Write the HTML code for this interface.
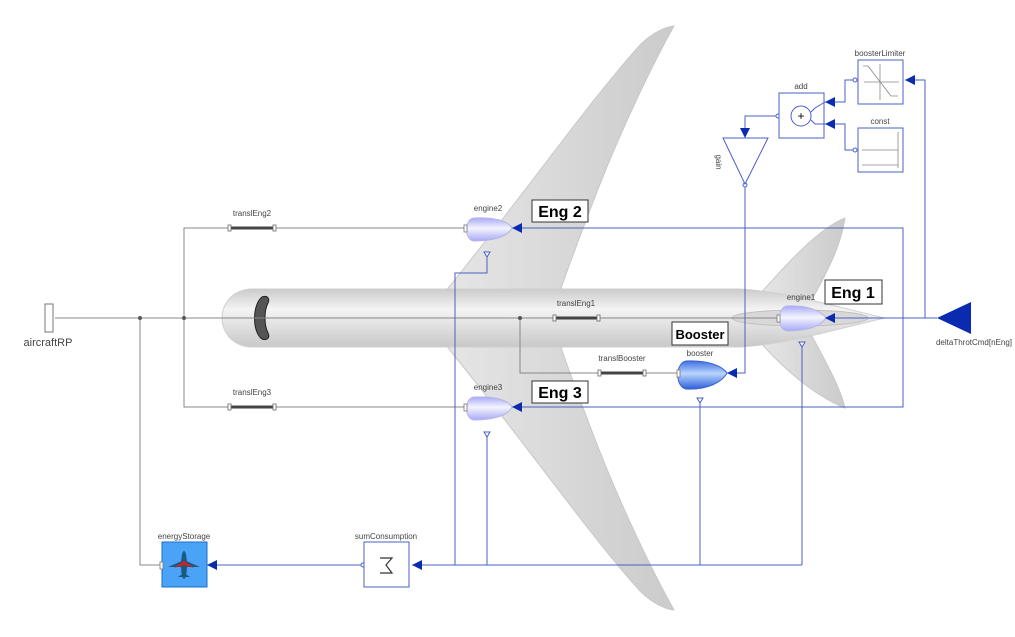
<!DOCTYPE html>
<html><head><meta charset="utf-8"><style>
html,body{margin:0;padding:0;background:#fff;}
svg{display:block;font-family:"Liberation Sans",sans-serif;}
</style></head><body>
<svg width="1015" height="637" viewBox="0 0 1015 637" xmlns="http://www.w3.org/2000/svg">
<defs>
<linearGradient id="fus" x1="0" y1="0" x2="0" y2="1">
<stop offset="0" stop-color="#cbcbcb"/><stop offset="0.35" stop-color="#f4f4f4"/><stop offset="1" stop-color="#c8c8c8"/>
</linearGradient>
<linearGradient id="wing" x1="0" y1="0" x2="1" y2="0">
<stop offset="0" stop-color="#e6e6e6"/><stop offset="1" stop-color="#cbcbcb"/>
</linearGradient>
<linearGradient id="eng" x1="0" y1="0" x2="0" y2="1">
<stop offset="0" stop-color="#a9a9f5"/><stop offset="0.45" stop-color="#f4f4ff"/><stop offset="1" stop-color="#a9a9f5"/>
</linearGradient>
<linearGradient id="boo" x1="0" y1="0" x2="0" y2="1">
<stop offset="0" stop-color="#3f6fe0"/><stop offset="0.45" stop-color="#b8d4ff"/><stop offset="1" stop-color="#2f5fd8"/>
</linearGradient>
</defs>

<path d="M445,292 C520,200 590,100 640,45 C652,33 665,27 674,26 C655,60 620,130 590,210 C575,250 565,275 560,292 Z" fill="url(#wing)" stroke="#c8c8c8"/>
<path d="M445,344 C520,436 590,536 640,591 C652,603 665,609 674,610 C655,576 620,506 590,426 C575,386 565,361 560,344 Z" fill="url(#wing)" stroke="#c8c8c8"/>
<path d="M760,294 C790,260 820,228 845,218 C840,250 825,275 812,300 Z" fill="url(#wing)" stroke="#c8c8c8"/>
<path d="M760,342 C790,376 820,398 845,408 C840,386 825,361 812,336 Z" fill="url(#wing)" stroke="#c8c8c8"/>
<path d="M250,289 L740,289 C790,292 840,308 885,318 C840,328 790,344 740,347 L250,347 C230,345 222,330 222,318 C222,306 230,291 250,289 Z" fill="url(#fus)" stroke="#cfcfcf"/>
<ellipse cx="800" cy="318" rx="68" ry="8" fill="#d8d8d8" stroke="#c0c0c0"/>
<path d="M262,297 C252,305 252,332 262,339 C268,341 270,337 268,333 C264,325 264,311 268,303 C270,299 268,295 262,297 Z" fill="#555" stroke="#222"/>

<g stroke="#888" stroke-width="1" fill="none">
<line x1="55" y1="318" x2="778" y2="318"/>
<polyline points="465,228 184,228 184,407 465,407"/>
<polyline points="162,565 140,565 140,318"/>
<polyline points="520,318 520,373 678,373"/>
</g>
<g fill="#555"><circle cx="140" cy="318" r="2"/><circle cx="184" cy="318" r="2"/><circle cx="520" cy="318" r="2"/></g>
<rect x="45" y="304" width="8" height="28" fill="#fff" stroke="#777"/>
<text x="48" y="346" font-size="11" fill="#444" text-anchor="middle">aircraftRP</text>

<g stroke="#444" stroke-width="3"><line x1="230" y1="228" x2="274" y2="228"/><line x1="230" y1="407" x2="274" y2="407"/><line x1="555" y1="318" x2="598" y2="318"/><line x1="600" y1="373" x2="644" y2="373"/></g>
<g fill="#fff" stroke="#666" stroke-width="0.8">
<rect x="228" y="225" width="3" height="6"/><rect x="273" y="225" width="3" height="6"/>
<rect x="228" y="404" width="3" height="6"/><rect x="273" y="404" width="3" height="6"/>
<rect x="553" y="315" width="3" height="6"/><rect x="597" y="315" width="3" height="6"/>
<rect x="598" y="370" width="3" height="6"/><rect x="643" y="370" width="3" height="6"/>
</g>
<g font-size="8" fill="#444" text-anchor="middle">
<text x="252" y="216">translEng2</text><text x="252" y="395">translEng3</text>
<text x="576" y="306">translEng1</text><text x="622" y="361">translBooster</text>
</g>

<g stroke="#4a5fc9" stroke-width="1" fill="none">
<polyline points="512,228 903,228 903,407 512,407"/>
<line x1="827" y1="318" x2="937" y2="318"/>
<polyline points="925,318 925,80 905,80"/>
<polyline points="745,185 745,373 727,373"/>
<polyline points="487,252 487,273 455,273 455,565"/>
<line x1="487" y1="432" x2="487" y2="565"/>
<line x1="700" y1="398" x2="700" y2="565"/>
<line x1="802" y1="342" x2="802" y2="565"/>
<line x1="802" y1="565" x2="412" y2="565"/>
<line x1="363" y1="565" x2="207" y2="565"/>
<polyline points="856,80 845,80 845,102 825,102"/>
<polyline points="856,150 845,150 845,124 825,124"/>
<polyline points="779,116 745,116 745,128"/>
</g>

<g stroke="#b5b5ea" stroke-width="1">
<path d="M474,218 C495,217 508,221 512,228 C508,236 495,241 474,241 C464,240 464,219 474,218 Z" fill="url(#eng)"/>
<path d="M474,397 C495,396 508,400 512,407 C508,415 495,420 474,420 C464,419 464,398 474,397 Z" fill="url(#eng)"/>
<path d="M787,306 C808,305 821,311 826,318 C821,326 808,331 787,331 C777,330 777,307 787,306 Z" fill="url(#eng)"/>
<path d="M686,361 C708,360 722,366 727,373 C722,382 708,390 686,389 C675,387 675,363 686,361 Z" fill="url(#boo)" stroke="#3a63cf"/>
</g>
<g fill="#fff" stroke="#777" stroke-width="0.8">
<rect x="464" y="225" width="3" height="7"/><rect x="464" y="404" width="3" height="7"/><rect x="777" y="315" width="3" height="7"/><rect x="677" y="370" width="3" height="7"/>
</g>
<g fill="#0a2bb0">
<polygon points="512,228 522,223 522,233"/><polygon points="512,407 522,402 522,412"/><polygon points="825,318 835,313 835,323"/><polygon points="727,373 737,368 737,378"/>
<polygon points="207,565 217,560 217,570"/><polygon points="412,565 422,560 422,570"/>
<polygon points="905,80 915,75 915,85"/><polygon points="825,102 835,97 835,107"/><polygon points="825,124 835,119 835,129"/>
<polygon points="740,128 750,128 745,138"/>
<polygon points="937,318 971,302 971,334"/>
</g>
<g fill="#fff" stroke="#4a5fc9" stroke-width="1">
<polygon points="484,252 490,252 487,257"/><polygon points="484,432 490,432 487,437"/><polygon points="697,398 703,398 700,403"/><polygon points="799,342 805,342 802,347"/>
<circle cx="855" cy="80" r="2"/><circle cx="855" cy="150" r="2"/><circle cx="778" cy="116" r="2"/><circle cx="745" cy="185" r="2"/><circle cx="363" cy="565" r="2"/>
</g>
<g font-size="8" fill="#444" text-anchor="middle">
<text x="488" y="211">engine2</text><text x="488" y="390">engine3</text><text x="801" y="300">engine1</text><text x="700" y="356">booster</text>
<text x="974" y="345">deltaThrotCmd[nEng]</text>
</g>

<g stroke="#333" fill="#fff"><rect x="532" y="200" width="56" height="22"/><rect x="825" y="280" width="57" height="24"/><rect x="672" y="322" width="56" height="23"/><rect x="532" y="381" width="56" height="22"/></g>
<g font-size="16" font-weight="bold" fill="#000" text-anchor="middle">
<text x="560" y="217">Eng 2</text><text x="853" y="298">Eng 1</text><text x="560" y="398">Eng 3</text>
</g>
<text x="700" y="339" font-size="13" font-weight="bold" text-anchor="middle">Booster</text>

<g fill="#fff" stroke="#4a5fc9" stroke-width="1">
<rect x="779" y="93" width="45" height="45"/>
<rect x="858" y="60" width="45" height="44"/>
<rect x="858" y="128" width="45" height="44"/>
<polygon points="723,138 768,138 745,184"/>
<circle cx="801" cy="116" r="10"/>
<polyline points="811,112 815,108 825,102"/><polyline points="811,120 815,124 825,124"/>
</g>
<text x="801" y="120" font-size="12" text-anchor="middle">+</text>
<g stroke="#888" fill="none" stroke-width="0.8">
<line x1="880" y1="100" x2="880" y2="64"/><line x1="864" y1="82" x2="899" y2="82"/><polyline points="863,66 868,66 891,96 898,96"/>
<line x1="898" y1="168" x2="898" y2="132"/><line x1="862" y1="165" x2="898" y2="165"/><line x1="862" y1="150" x2="898" y2="150"/>
</g>
<g font-size="8" fill="#444" text-anchor="middle">
<text x="801" y="89">add</text><text x="880" y="56">boosterLimiter</text><text x="880" y="124">const</text>
<text x="716" y="162" transform="rotate(90 716 162)">gain</text>
<text x="184" y="539">energyStorage</text><text x="386" y="539">sumConsumption</text>
</g>

<rect x="364" y="542" width="45" height="45" fill="#fff" stroke="#4a5fc9"/>
<polyline points="380,558 392,558 386,565 392,573 380,573" fill="none" stroke="#333" stroke-width="1.2"/>
<rect x="162" y="542" width="45" height="45" fill="#4aa3f7" stroke="#1e6cc8"/>
<g fill="#1a5a80"><ellipse cx="184" cy="565" rx="3" ry="14"/><polygon points="168,567 200,567 184,560"/><polygon points="178,577 190,577 184,573"/></g>
<polygon points="174,568 184,561 194,568 184,565" fill="#e01b1b"/>
<rect x="160" y="562" width="3" height="7" fill="#fff" stroke="#777" stroke-width="0.8"/>
</svg>
</body></html>
